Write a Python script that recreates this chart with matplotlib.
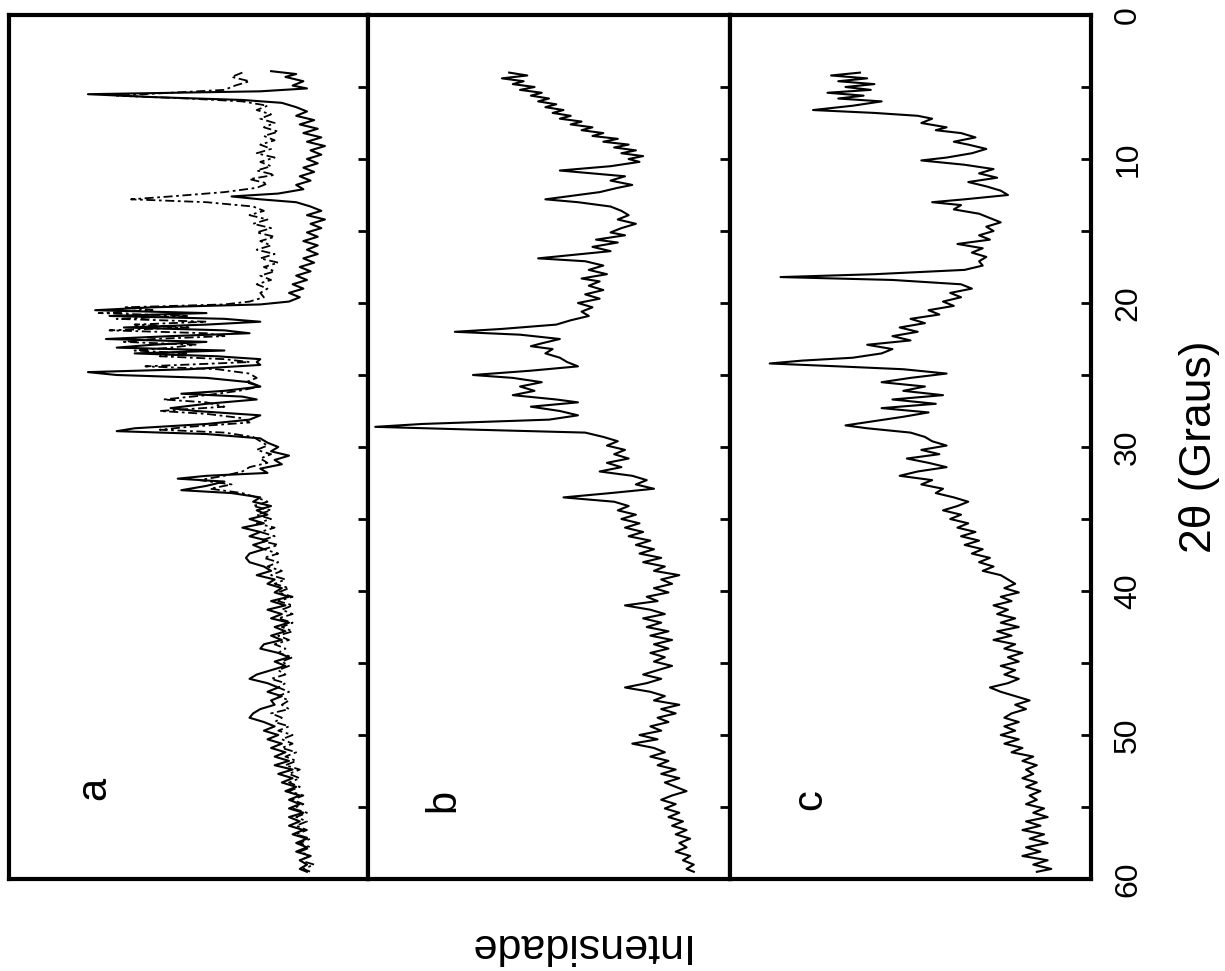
import matplotlib
matplotlib.use("Agg")
import matplotlib.pyplot as plt

plt.rcParams['font.family'] = ['Liberation Sans', 'DejaVu Sans']

# (2theta, intensidade relativa 0-100)
padrao_a_cheio = [
    (3.9, 27), (4.1, 20), (4.3, 23), (4.6, 18), (4.9, 21), (5.1, 17), (5.3, 30), (5.5, 78), (5.7, 60), (5.9, 35),
    (6.1, 24), (6.4, 20), (6.7, 17), (7.0, 20), (7.3, 15), (7.6, 19), (7.9, 14), (8.2, 18), (8.5, 13), (8.8, 17),
    (9.1, 12), (9.4, 16), (9.7, 13), (10.0, 17), (10.3, 14), (10.6, 18), (10.9, 15), (11.2, 19), (11.5, 16),
    (11.8, 20), (12.1, 18), (12.4, 25), (12.6, 38), (12.8, 30), (13.0, 20), (13.3, 16), (13.6, 13), (13.9, 17),
    (14.2, 12), (14.5, 16), (14.8, 13), (15.1, 17), (15.4, 14), (15.7, 18), (16.0, 14), (16.3, 17), (16.6, 14),
    (16.9, 18), (17.2, 15), (17.5, 19), (17.8, 16), (18.1, 20), (18.4, 17), (18.7, 21), (19.0, 18), (19.3, 22),
    (19.6, 19), (19.9, 22), (20.1, 30), (20.3, 60), (20.5, 76), (20.7, 45), (20.9, 72), (21.1, 40), (21.3, 30),
    (21.5, 45), (21.7, 68), (21.9, 40), (22.1, 33), (22.3, 55), (22.5, 73), (22.7, 45), (22.9, 60), (23.1, 70),
    (23.3, 40), (23.5, 65), (23.7, 42), (23.9, 30), (24.1, 31), (24.3, 30), (24.6, 50), (24.8, 78), (25.0, 70),
    (25.2, 45), (25.5, 33), (25.8, 30), (26.1, 40), (26.3, 52), (26.5, 35), (26.7, 31), (27.0, 45), (27.3, 55),
    (27.5, 48), (27.8, 30), (28.1, 33), (28.4, 45), (28.7, 65), (28.9, 70), (29.1, 45), (29.4, 30), (29.7, 28),
    (30.0, 25), (30.3, 27), (30.6, 22), (30.9, 26), (31.2, 24), (31.5, 30), (31.8, 28), (32.0, 45), (32.2, 53),
    (32.4, 40), (32.7, 45), (33.0, 52), (33.2, 38), (33.5, 30), (33.8, 32), (34.1, 27), (34.4, 31), (34.7, 28),
    (35.0, 33), (35.3, 29), (35.6, 35), (35.9, 30), (36.2, 33), (36.5, 28), (36.8, 32), (37.1, 29), (37.4, 33),
    (37.7, 34), (38.0, 33), (38.3, 29), (38.6, 27), (38.9, 31), (39.2, 26), (39.5, 28), (39.8, 24), (40.1, 26),
    (40.4, 22), (40.7, 27), (41.0, 23), (41.3, 28), (41.6, 24), (41.9, 27), (42.2, 22), (42.5, 26), (42.8, 23),
    (43.1, 27), (43.4, 24), (43.7, 29), (44.0, 30), (44.3, 25), (44.6, 22), (44.9, 26), (45.2, 23), (45.5, 27),
    (45.8, 31), (46.1, 33), (46.4, 28), (46.7, 25), (47.0, 28), (47.3, 24), (47.6, 27), (47.9, 26), (48.2, 30),
    (48.5, 32), (48.8, 33), (49.1, 29), (49.4, 26), (49.7, 29), (50.0, 25), (50.3, 28), (50.6, 24), (50.9, 27),
    (51.2, 23), (51.5, 26), (51.8, 22), (52.1, 26), (52.4, 21), (52.7, 25), (53.0, 21), (53.3, 24), (53.6, 20),
    (53.9, 23), (54.2, 19), (54.5, 22), (54.8, 19), (55.1, 22), (55.4, 18), (55.7, 22), (56.0, 19), (56.3, 22),
    (56.6, 18), (56.9, 21), (57.2, 17), (57.5, 20), (57.8, 17), (58.1, 20), (58.4, 16), (58.7, 19), (59.0, 17),
    (59.3, 19), (59.5, 17),
]

padrao_a_tracejado = [
    (4.0, 35), (4.3, 38), (4.6, 33), (4.9, 37), (5.2, 40), (5.4, 55), (5.6, 70), (5.8, 50), (6.0, 35), (6.3, 28),
    (6.6, 31), (6.9, 27), (7.2, 30), (7.5, 26), (7.8, 29), (8.1, 25), (8.4, 29), (8.7, 26), (9.0, 30), (9.3, 27),
    (9.6, 31), (9.9, 26), (10.2, 30), (10.5, 27), (10.8, 31), (11.1, 26), (11.4, 33), (11.7, 28), (12.0, 31),
    (12.3, 40), (12.6, 55), (12.8, 66), (13.0, 45), (13.3, 32), (13.6, 29), (13.9, 33), (14.2, 28), (14.5, 32),
    (14.8, 27), (15.1, 31), (15.4, 26), (15.7, 30), (16.0, 27), (16.3, 31), (16.6, 26), (16.9, 30), (17.2, 25),
    (17.5, 29), (17.8, 26), (18.1, 30), (18.4, 27), (18.7, 31), (19.0, 28), (19.3, 30), (19.6, 29), (19.9, 33),
    (20.1, 40), (20.3, 68), (20.5, 60), (20.7, 75), (20.9, 50), (21.1, 70), (21.3, 45), (21.5, 65), (21.7, 50),
    (21.9, 72), (22.1, 45), (22.3, 40), (22.5, 60), (22.7, 68), (22.9, 48), (23.1, 55), (23.3, 65), (23.5, 50),
    (23.7, 58), (23.9, 40), (24.1, 33), (24.4, 62), (24.6, 42), (24.9, 33), (25.2, 31), (25.5, 34), (25.8, 30),
    (26.1, 36), (26.4, 45), (26.7, 57), (26.9, 45), (27.2, 40), (27.5, 58), (27.7, 45), (28.0, 35), (28.3, 33),
    (28.6, 50), (28.8, 58), (29.0, 40), (29.3, 32), (29.6, 30), (29.9, 28), (30.2, 31), (30.5, 27), (30.8, 30),
    (31.1, 28), (31.4, 33), (31.7, 35), (32.0, 40), (32.3, 47), (32.6, 38), (32.9, 44), (33.2, 35), (33.5, 31),
    (33.8, 28), (34.1, 32), (34.4, 27), (34.7, 31), (35.0, 27), (35.3, 31), (35.6, 26), (35.9, 30), (36.2, 26),
    (36.5, 30), (36.8, 25), (37.1, 29), (37.4, 25), (37.7, 29), (38.0, 25), (38.3, 28), (38.6, 24), (38.9, 27),
    (39.2, 23), (39.5, 26), (39.8, 22), (40.1, 25), (40.4, 21), (40.7, 25), (41.0, 21), (41.3, 24), (41.6, 21),
    (41.9, 25), (42.2, 21), (42.5, 24), (42.8, 21), (43.1, 25), (43.4, 22), (43.7, 26), (44.0, 23), (44.3, 25),
    (44.6, 21), (44.9, 24), (45.2, 22), (45.5, 25), (45.8, 23), (46.1, 27), (46.4, 23), (46.7, 25), (47.0, 22),
    (47.3, 25), (47.6, 22), (47.9, 24), (48.2, 22), (48.5, 27), (48.8, 24), (49.1, 26), (49.4, 22), (49.7, 25),
    (50.0, 21), (50.3, 24), (50.6, 21), (50.9, 24), (51.2, 20), (51.5, 23), (51.8, 20), (52.1, 23), (52.4, 19),
    (52.7, 22), (53.0, 19), (53.3, 22), (53.6, 19), (53.9, 22), (54.2, 18), (54.5, 21), (54.8, 18), (55.1, 21),
    (55.4, 17), (55.7, 20), (56.0, 17), (56.3, 20), (56.6, 17), (56.9, 20), (57.2, 16), (57.5, 19), (57.8, 16),
    (58.1, 19), (58.4, 16), (58.7, 19), (59.0, 15), (59.3, 18), (59.5, 16),
]

padrao_b = [
    (4.0, 61), (4.2, 56), (4.4, 63), (4.6, 57), (4.8, 60), (5.0, 54), (5.2, 58), (5.4, 52), (5.6, 55), (5.8, 50),
    (6.0, 53), (6.2, 48), (6.4, 51), (6.6, 46), (6.8, 49), (7.0, 44), (7.2, 47), (7.4, 41), (7.6, 44), (7.8, 38),
    (8.0, 41), (8.2, 35), (8.4, 38), (8.6, 31), (8.8, 35), (9.0, 28), (9.2, 32), (9.4, 26), (9.6, 30), (9.8, 24),
    (10.0, 28), (10.2, 25), (10.5, 33), (10.8, 47), (11.0, 38), (11.2, 29), (11.5, 33), (11.8, 27), (12.0, 31),
    (12.3, 36), (12.6, 45), (12.8, 51), (13.0, 42), (13.3, 33), (13.6, 30), (13.9, 28), (14.2, 31), (14.5, 26),
    (14.8, 30), (15.1, 33), (15.3, 29), (15.6, 37), (15.8, 31), (16.1, 38), (16.4, 33), (16.7, 45), (16.9, 53),
    (17.1, 40), (17.4, 35), (17.7, 39), (18.0, 34), (18.3, 41), (18.5, 36), (18.8, 39), (19.1, 35), (19.4, 40),
    (19.7, 36), (20.0, 42), (20.3, 38), (20.6, 41), (20.9, 39), (21.2, 44), (21.5, 48), (21.8, 63), (22.0, 76),
    (22.2, 58), (22.5, 47), (22.8, 52), (23.0, 55), (23.2, 49), (23.5, 51), (23.8, 47), (24.1, 45), (24.4, 42),
    (24.7, 55), (25.0, 71), (25.2, 60), (25.5, 52), (25.8, 58), (26.1, 54), (26.4, 60), (26.7, 48), (26.9, 42),
    (27.2, 55), (27.5, 47), (27.8, 42), (28.1, 50), (28.4, 85), (28.6, 98), (28.8, 70), (29.0, 40), (29.3, 35),
    (29.6, 31), (29.9, 34), (30.2, 29), (30.5, 32), (30.8, 28), (31.1, 34), (31.4, 30), (31.7, 36), (32.0, 27),
    (32.3, 23), (32.6, 26), (32.9, 21), (33.2, 33), (33.5, 46), (33.8, 32), (34.1, 28), (34.4, 31), (34.7, 26),
    (35.0, 30), (35.3, 25), (35.6, 29), (35.9, 24), (36.2, 28), (36.5, 22), (36.8, 26), (37.1, 21), (37.4, 25),
    (37.7, 19), (38.0, 24), (38.3, 18), (38.6, 21), (38.9, 14), (39.2, 19), (39.5, 16), (39.8, 21), (40.1, 17),
    (40.4, 23), (40.7, 20), (41.0, 29), (41.3, 22), (41.6, 18), (41.9, 24), (42.2, 19), (42.5, 23), (42.8, 17),
    (43.1, 22), (43.4, 16), (43.7, 21), (44.0, 17), (44.3, 22), (44.6, 18), (44.9, 21), (45.2, 16), (45.5, 20),
    (45.8, 24), (46.1, 19), (46.4, 23), (46.7, 29), (47.0, 22), (47.3, 18), (47.6, 21), (47.9, 14), (48.2, 19),
    (48.5, 15), (48.8, 20), (49.1, 17), (49.4, 22), (49.7, 19), (50.0, 25), (50.3, 20), (50.6, 27), (50.9, 21),
    (51.2, 18), (51.5, 22), (51.8, 17), (52.1, 20), (52.4, 15), (52.7, 19), (53.0, 14), (53.3, 18), (53.6, 15),
    (53.9, 12), (54.2, 16), (54.5, 19), (54.8, 15), (55.1, 18), (55.4, 14), (55.7, 17), (56.0, 13), (56.3, 16),
    (56.6, 12), (56.9, 15), (57.2, 11), (57.5, 14), (57.8, 12), (58.1, 15), (58.4, 11), (58.7, 13), (59.0, 10),
    (59.3, 12), (59.5, 10),
]

padrao_c = [
    (4.0, 64), (4.2, 72), (4.4, 62), (4.6, 70), (4.8, 60), (5.0, 68), (5.2, 61), (5.4, 73), (5.6, 63), (5.8, 70),
    (6.0, 58), (6.3, 66), (6.6, 77), (6.8, 60), (7.0, 48), (7.2, 44), (7.5, 47), (7.8, 40), (8.0, 43), (8.2, 36),
    (8.5, 32), (8.8, 38), (9.0, 34), (9.3, 29), (9.6, 33), (9.9, 40), (10.1, 47), (10.4, 35), (10.7, 27),
    (11.0, 31), (11.3, 26), (11.6, 34), (11.9, 29), (12.2, 25), (12.5, 23), (12.8, 35), (13.0, 44), (13.2, 36),
    (13.5, 38), (13.8, 31), (14.1, 28), (14.4, 25), (14.7, 29), (15.0, 27), (15.3, 31), (15.6, 28), (15.9, 37),
    (16.2, 30), (16.5, 33), (16.8, 29), (17.1, 31), (17.4, 30), (17.7, 35), (18.0, 60), (18.2, 86), (18.4, 55),
    (18.7, 36), (19.0, 33), (19.3, 39), (19.6, 36), (19.9, 41), (20.2, 38), (20.5, 45), (20.8, 42), (21.1, 50),
    (21.4, 46), (21.7, 53), (22.0, 48), (22.3, 55), (22.6, 50), (22.9, 62), (23.2, 55), (23.5, 58), (23.8, 66),
    (24.0, 80), (24.2, 89), (24.4, 70), (24.6, 52), (24.9, 40), (25.2, 50), (25.5, 58), (25.8, 46), (26.1, 52),
    (26.4, 41), (26.7, 55), (27.0, 43), (27.3, 58), (27.6, 45), (27.9, 52), (28.2, 60), (28.5, 68), (28.7, 62),
    (29.0, 50), (29.3, 46), (29.6, 44), (29.9, 40), (30.2, 47), (30.5, 42), (30.8, 51), (31.1, 45), (31.4, 40),
    (31.7, 48), (32.0, 53), (32.3, 44), (32.6, 47), (32.9, 41), (33.2, 43), (33.5, 38), (33.8, 34), (34.1, 37),
    (34.4, 41), (34.7, 36), (35.0, 39), (35.3, 34), (35.6, 37), (35.9, 32), (36.2, 36), (36.5, 31), (36.8, 35),
    (37.1, 30), (37.4, 33), (37.7, 28), (38.0, 31), (38.3, 27), (38.6, 30), (38.9, 25), (39.2, 23), (39.5, 21),
    (39.8, 24), (40.1, 20), (40.4, 25), (40.7, 22), (41.0, 27), (41.3, 23), (41.6, 26), (41.9, 21), (42.2, 25),
    (42.5, 20), (42.8, 26), (43.1, 22), (43.4, 27), (43.7, 21), (44.0, 24), (44.3, 19), (44.6, 23), (44.9, 20),
    (45.2, 25), (45.5, 21), (45.8, 24), (46.1, 20), (46.4, 23), (46.7, 28), (47.0, 25), (47.3, 21), (47.6, 17),
    (47.9, 21), (48.2, 18), (48.5, 22), (48.8, 24), (49.1, 20), (49.4, 24), (49.7, 21), (50.0, 25), (50.3, 20),
    (50.6, 24), (50.9, 19), (51.2, 22), (51.5, 16), (51.8, 19), (52.1, 15), (52.4, 18), (52.7, 16), (53.0, 19),
    (53.3, 15), (53.6, 18), (53.9, 14), (54.2, 17), (54.5, 15), (54.8, 18), (55.1, 13), (55.4, 16), (55.7, 12),
    (56.0, 18), (56.3, 14), (56.6, 19), (56.9, 13), (57.2, 17), (57.5, 12), (57.8, 18), (58.1, 14), (58.4, 19),
    (58.7, 12), (59.0, 16), (59.3, 11), (59.5, 15),
]

rotulos_paineis = ['a', 'b', 'c']
ticks_2theta = [0, 10, 20, 30, 40, 50, 60]

W, H = 1225, 971
# limites dos paineis em pixels (x0, x1), topo 15, base 879
paineis_px = [(9, 368), (368, 730), (730, 1091)]
topo, base = 15, 879

fig = plt.figure(figsize=(W / 100, H / 100), dpi=100)

eixos = []
for i, (x0, x1) in enumerate(paineis_px):
    ax = fig.add_axes([x0 / W, 1 - base / H, (x1 - x0) / W, (base - topo) / H])
    ax.set_xlim(100, 0)
    ax.set_ylim(60, 0)
    ax.set_xticks([])
    ax.yaxis.tick_right()
    ax.set_yticks(ticks_2theta)
    ax.set_yticks([t + 5 for t in ticks_2theta[:-1]], minor=True)
    ax.tick_params(axis='y', which='both', direction='in', length=7, width=2,
                   left=False, right=True, labelleft=False, labelright=(i == 2),
                   labelsize=23, pad=16)
    for lab in ax.get_yticklabels():
        lab.set_rotation(90)
        lab.set_va('center')
    for sp in ax.spines.values():
        sp.set_linewidth(3)
    eixos.append(ax)


def desenha(ax, dados, **kw):
    th = [p[0] for p in dados]
    it = [p[1] for p in dados]
    ax.plot(it, th, color='black', **kw)


desenha(eixos[0], padrao_a_tracejado, lw=1.3, ls=(0, (5, 2, 1.5, 2)))
desenha(eixos[0], padrao_a_cheio, lw=1.5)
desenha(eixos[1], padrao_b, lw=1.5)
desenha(eixos[2], padrao_c, lw=1.5)

# letras dos paineis (rotacionadas como a figura)
pos_letras = [(94, 788), (443, 800), (810, 800)]
for letra, (px, py) in zip(rotulos_paineis, pos_letras):
    fig.text(px / W, 1 - py / H, letra, rotation=90, fontsize=30,
             ha='center', va='center')

fig.text(1200 / W, 1 - 447 / H, '2θ (Graus)', rotation=90, fontsize=32,
         ha='center', va='center')
fig.text(577 / W, 1 - 945 / H, 'Intensidade', rotation=180, fontsize=31,
         ha='center', va='center')

fig.savefig('out.png', dpi=100)
